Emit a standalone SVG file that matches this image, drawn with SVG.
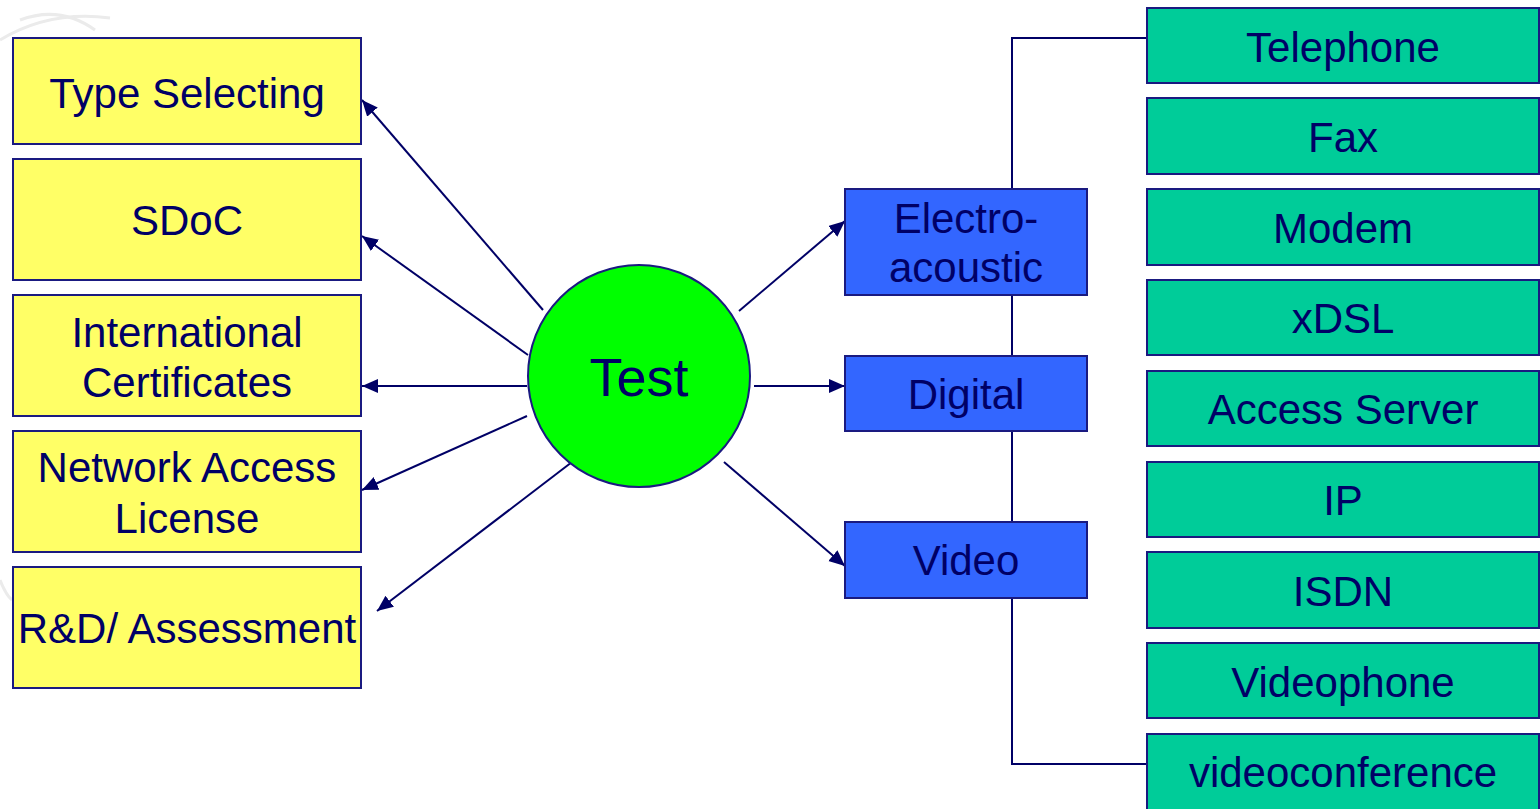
<svg xmlns="http://www.w3.org/2000/svg" width="1540" height="809" viewBox="0 0 1540 809">
<style>
text{font-family:"Liberation Sans",Arial,sans-serif;fill:#000066;text-anchor:middle;font-size:42px}
.y{fill:#FFFF66;stroke:#1a1a80;stroke-width:2}
.b{fill:#3366FF;stroke:#1a1a80;stroke-width:2}
.g{fill:#00CC99;stroke:#1a1a80;stroke-width:2}
.c{stroke:#000066;stroke-width:2;fill:none}
.wm{stroke:#ebebeb;stroke-width:3;fill:none}
</style>
<defs>
<marker id="ah" markerUnits="userSpaceOnUse" markerWidth="18" markerHeight="16" refX="16" refY="7" orient="auto">
<path d="M0,0 L16,7 L0,14 Z" fill="#000066"/>
</marker>
</defs>
<rect width="1540" height="809" fill="#ffffff"/>
<g id="watermark">
<path class="wm" d="M0,40 Q50,10 110,18"/>
<path class="wm" d="M20,20 Q60,5 95,30"/>
<path class="wm" d="M0,580 Q6,595 12,600"/>
</g>
<g id="connectors">
<line class="c" x1="543" y1="310" x2="362" y2="100" marker-end="url(#ah)"/>
<line class="c" x1="528" y1="355" x2="362" y2="236" marker-end="url(#ah)"/>
<line class="c" x1="527" y1="386" x2="362" y2="386" marker-end="url(#ah)"/>
<line class="c" x1="527" y1="416" x2="362" y2="490" marker-end="url(#ah)"/>
<line class="c" x1="572" y1="462" x2="377" y2="611" marker-end="url(#ah)"/>
<line class="c" x1="739" y1="311" x2="845" y2="221" marker-end="url(#ah)"/>
<line class="c" x1="754" y1="386" x2="845" y2="386" marker-end="url(#ah)"/>
<line class="c" x1="724" y1="462" x2="845" y2="566" marker-end="url(#ah)"/>
<polyline class="c" points="1147,38 1012,38 1012,764 1147,764"/>
</g>
<g id="n-type"><rect class="y" x="13" y="38" width="348" height="106"/><text x="187" y="108">Type Selecting</text></g>
<g id="n-sdoc"><rect class="y" x="13" y="159" width="348" height="121"/><text x="187" y="235">SDoC</text></g>
<g id="n-intl"><rect class="y" x="13" y="295" width="348" height="121"/><text x="187" y="347">International</text><text x="187" y="397">Certificates</text></g>
<g id="n-nal"><rect class="y" x="13" y="431" width="348" height="121"/><text x="187" y="482">Network Access</text><text x="187" y="533">License</text></g>
<g id="n-rd"><rect class="y" x="13" y="567" width="348" height="121"/><text x="187" y="643">R&amp;D/ Assessment</text></g>
<g id="n-test"><circle cx="639" cy="376" r="111" fill="#00FF00" stroke="#1a1a80" stroke-width="2"/><text x="639" y="396" style="font-size:54px">Test</text></g>
<g id="n-electro"><rect class="b" x="845" y="189" width="242" height="106"/><text x="966" y="233">Electro-</text><text x="966" y="282">acoustic</text></g>
<g id="n-digital"><rect class="b" x="845" y="356" width="242" height="75"/><text x="966" y="409">Digital</text></g>
<g id="n-video"><rect class="b" x="845" y="522" width="242" height="76"/><text x="966" y="575">Video</text></g>
<g id="n-telephone"><rect class="g" x="1147" y="8" width="392" height="75"/><text x="1343" y="62">Telephone</text></g>
<g id="n-fax"><rect class="g" x="1147" y="98" width="392" height="76"/><text x="1343" y="152">Fax</text></g>
<g id="n-modem"><rect class="g" x="1147" y="189" width="392" height="76"/><text x="1343" y="243">Modem</text></g>
<g id="n-xdsl"><rect class="g" x="1147" y="280" width="392" height="75"/><text x="1343" y="333">xDSL</text></g>
<g id="n-access"><rect class="g" x="1147" y="371" width="392" height="75"/><text x="1343" y="424">Access Server</text></g>
<g id="n-ip"><rect class="g" x="1147" y="462" width="392" height="75"/><text x="1343" y="515">IP</text></g>
<g id="n-isdn"><rect class="g" x="1147" y="552" width="392" height="76"/><text x="1343" y="606">ISDN</text></g>
<g id="n-videophone"><rect class="g" x="1147" y="643" width="392" height="75"/><text x="1343" y="697">Videophone</text></g>
<g id="n-videoconf"><rect class="g" x="1147" y="734" width="392" height="80"/><text x="1343" y="787">videoconference</text></g>
</svg>
